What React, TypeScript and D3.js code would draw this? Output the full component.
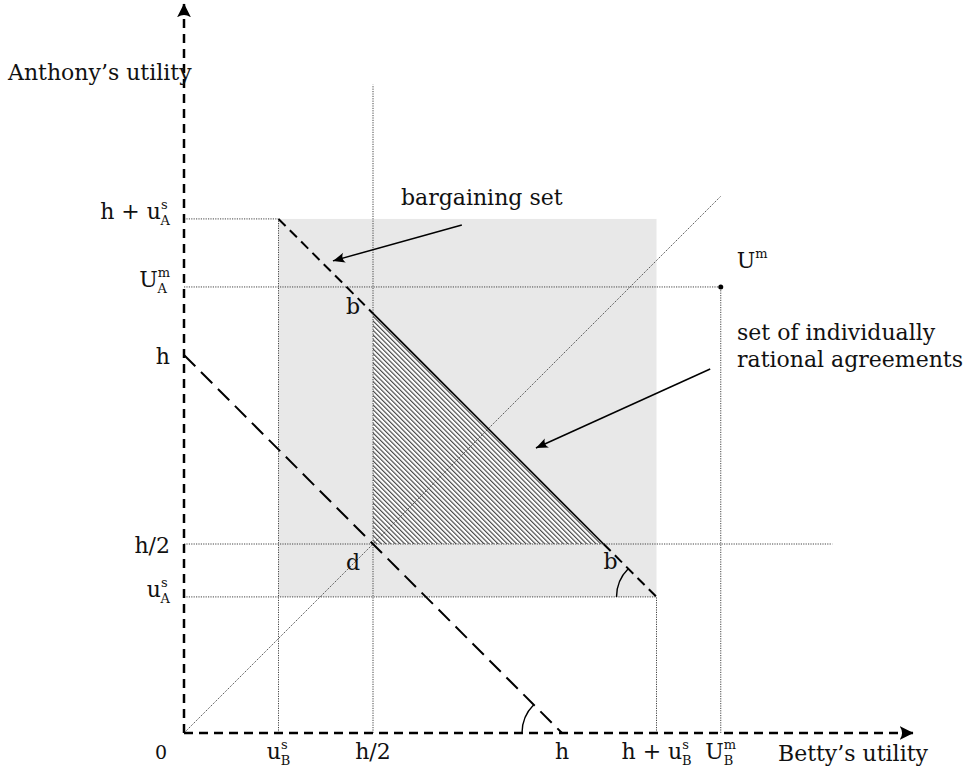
import * as d3 from "d3";
import React from "react";

// utilities (in units where h = 100)
const threat = 100; // h
const surplus = [25, 36]; // [u_B^s, u_A^s]
const monopoly = [142, 118]; // [U_B^m, U_A^m]
const disagreement = [50, 50]; // d = (h/2, h/2)
const guideExtent = 171.5;
const axisExtent = 193;

const xTickValues = [0, 25, 50, 100, 125, 142];
const xTickBase = ["0", "u", "h/2", "h", "h + u", "U"];
const xTickSup = ["", "s", "", "", "s", "m"];
const xTickSub = ["", "B", "", "", "B", "B"];

const yTickValues = [36, 50, 100, 118, 136];
const yTickBase = ["u", "h/2", "h", "U", "h + u"];
const yTickSup = ["s", "", "", "m", "s"];
const yTickSub = ["A", "", "", "A", "A"];

const arrowFrom = [[73.5, 134.4], [139.2, 96.3]];
const arrowTo = [[39.4, 124.9], [93.1, 75.4]];

const FONT = "DejaVu Serif, Liberation Serif, serif";
const FS = 22;
const PX = 3.78;
const origin = { x: 184, y: 733 };

const supWidth: Record<string, number> = { s: 7, m: 12.5 };

const Label = ({ x, y, base, sup, sub, anchor, size = FS }: any) => (
  <text x={x} y={y} textAnchor={anchor} style={{ fontFamily: FONT }} fontSize={size} fill="#111">
    {base}
    {sup ? <tspan dy={-10} fontSize={13}>{sup}</tspan> : null}
    {sub ? (
      <tspan dx={sup ? -supWidth[sup] : 0} dy={sup ? 16 : 6} fontSize={13}>
        {sub}
      </tspan>
    ) : null}
  </text>
);

export default function App() {
  const x = d3.scaleLinear().domain([0, 1]).range([origin.x, origin.x + PX]);
  const y = d3.scaleLinear().domain([0, 1]).range([origin.y, origin.y - PX]);
  const line = d3.line<number[]>().x((d) => x(d[0])).y((d) => y(d[1]));

  const [uBs, uAs] = surplus;
  const [UBm, UAm] = monopoly;
  const total = threat + uAs + uBs;
  const bTop = [disagreement[0], total - disagreement[0]];
  const bRight = [total - disagreement[1], disagreement[1]];

  const dotted = [
    [[uBs, 0], [uBs, threat + uAs]],
    [[0, threat + uAs], [uBs, threat + uAs]],
    [[0, uAs], [threat + uBs, uAs]],
    [[threat + uBs, 0], [threat + uBs, uAs]],
    [[disagreement[0], 0], [disagreement[0], guideExtent]],
    [[0, disagreement[1]], [guideExtent, disagreement[1]]],
    [[0, UAm], [UBm, UAm]],
    [[UBm, 0], [UBm, UAm]],
    [[0, 0], [UBm, UBm]],
  ];

  const arc = (cx: number, cy: number, r: number) => {
    const a = (3 * Math.PI) / 4;
    return `M${cx - r},${cy} A${r},${r} 0 0 1 ${cx + r * Math.cos(a)},${cy - r * Math.sin(a)}`;
  };

  const textStyle = { fontFamily: FONT };

  return (
    <svg width={968} height={774} style={{ position: "absolute", left: 0, top: 0, background: "#fff" }}>
      <defs>
        <pattern id="hatch" width={3.3} height={3.3} patternUnits="userSpaceOnUse" patternTransform="rotate(-45)">
          <line x1={0.6} y1={0} x2={0.6} y2={3.3} stroke="#333" strokeWidth={1.05} />
        </pattern>
        <marker id="axisHead" viewBox="-14 -8 16 16" refX={0} refY={0} markerWidth={16} markerHeight={16} markerUnits="userSpaceOnUse" orient="auto">
          <path d="M0,0 L-14,-7 Q-9,0 -14,7 Z" fill="#000" />
        </marker>
        <marker id="noteHead" viewBox="-13 -7 14 14" refX={0} refY={0} markerWidth={14} markerHeight={14} markerUnits="userSpaceOnUse" orient="auto">
          <path d="M0,0 L-12,-5 Q-8,0 -12,5 Z" fill="#000" />
        </marker>
      </defs>

      {/* bargaining set */}
      <rect
        x={x(uBs)}
        y={y(threat + uAs)}
        width={x(threat + uBs) - x(uBs)}
        height={y(uAs) - y(threat + uAs)}
        fill="#e8e8e8"
      />

      {/* individually rational agreements */}
      <path d={(line([bTop, disagreement, bRight]) || "") + "Z"} fill="#fff" />
      <path d={(line([bTop, disagreement, bRight]) || "") + "Z"} fill="url(#hatch)" />

      {dotted.map((seg, i) => (
        <path key={i} d={line(seg) || ""} stroke="#444" strokeWidth={1} strokeDasharray="1.2 1.2" fill="none" />
      ))}

      <path d={line([bTop, bRight]) || ""} stroke="#000" strokeWidth={1.6} fill="none" />

      {/* dashed frontier pieces */}
      <path d={line([[uBs, threat + uAs], bTop]) || ""} stroke="#000" strokeWidth={2} strokeDasharray="10 6" fill="none" />
      <path d={line([bRight, [threat + uBs, uAs]]) || ""} stroke="#000" strokeWidth={2} strokeDasharray="10 6" fill="none" />
      <path d={line([[0, threat], [threat, 0]]) || ""} stroke="#000" strokeWidth={2} strokeDasharray="16 8" fill="none" />

      {/* angle marks */}
      <path d={arc(x(threat), y(0), 40)} stroke="#000" strokeWidth={1.4} fill="none" />
      <path d={arc(x(threat + uBs), y(uAs), 40)} stroke="#000" strokeWidth={1.4} fill="none" />

      {/* axes */}
      <path d={line([[0, 0], [axisExtent, 0]]) || ""} stroke="#000" strokeWidth={2.5} strokeDasharray="9 6" fill="none" markerEnd="url(#axisHead)" />
      <path d={line([[0, 0], [0, axisExtent]]) || ""} stroke="#000" strokeWidth={2.5} strokeDasharray="9 6" fill="none" markerEnd="url(#axisHead)" />

      {/* annotation arrows */}
      {arrowFrom.map((f, i) => (
        <path key={i} d={line([f, arrowTo[i]]) || ""} stroke="#000" strokeWidth={1.5} fill="none" markerEnd="url(#noteHead)" />
      ))}

      <circle cx={x(UBm)} cy={y(UAm)} r={2.5} fill="#000" />

      {/* tick labels */}
      {xTickValues.map((v, i) => (
        <Label
          key={"x" + i}
          x={x(v) - (v === 0 ? 23 : 0)}
          y={origin.y + 26}
          base={xTickBase[i]}
          sup={xTickSup[i]}
          sub={xTickSub[i]}
          anchor="middle"
          size={v === 0 ? 19 : FS}
        />
      ))}
      {yTickValues.map((v, i) => (
        <Label
          key={"y" + i}
          x={origin.x - 14}
          y={y(v) + (yTickSub[i] ? 0 : 9)}
          base={yTickBase[i]}
          sup={yTickSup[i]}
          sub={yTickSub[i]}
          anchor="end"
        />
      ))}

      {/* point labels */}
      <Label x={x(bTop[0]) - 20} y={y(bTop[1]) + 1} base="b" anchor="middle" />
      <Label x={x(bRight[0]) + 7} y={y(bRight[1]) + 25} base="b" anchor="middle" />
      <Label x={x(disagreement[0]) - 20} y={y(disagreement[1]) + 26} base="d" anchor="middle" />
      <Label x={x(UBm) + 16} y={y(UAm) - 19} base="U" sup="m" anchor="start" />

      {/* axis titles and notes */}
      <text x={8} y={80} style={textStyle} fontSize={FS} fill="#111">Anthony’s utility</text>
      <text x={778} y={761} style={textStyle} fontSize={FS} fill="#111">Betty’s utility</text>
      <text x={401} y={205} style={textStyle} fontSize={FS} fill="#111">bargaining set</text>
      <text x={737} y={340} style={textStyle} fontSize={FS} fill="#111">set of individually</text>
      <text x={737} y={367} style={textStyle} fontSize={FS} fill="#111">rational agreements</text>
    </svg>
  );
}
